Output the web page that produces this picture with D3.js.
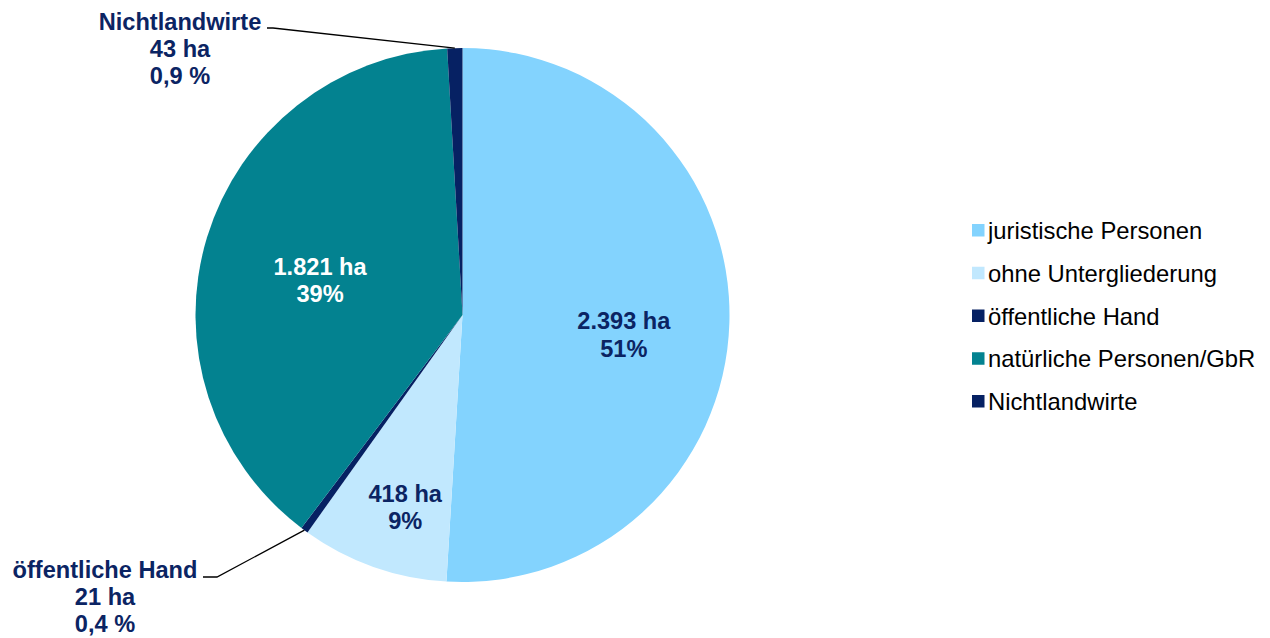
<!DOCTYPE html>
<html>
<head>
<meta charset="utf-8">
<script src="https://cdn.jsdelivr.net/npm/d3@7"></script>
<style>
  html, body { margin: 0; padding: 0; background: #fff; }
  svg { display: block; font-family: "Liberation Sans", Arial, sans-serif; }
</style>
</head>
<body>
<svg id="chart" width="1270" height="638"></svg>
<script>
// Flächen nach Eigentümergruppe (ha)
const categories = ["juristische Personen", "ohne Untergliederung", "öffentliche Hand", "natürliche Personen/GbR", "Nichtlandwirte"];
const values = [2393, 418, 21, 1821, 43];
const colors = ["#83d3fe", "#c1e8fe", "#062163", "#038290", "#062163"];

const W = 1270, H = 638;
const cx = 462.5, cy = 315, R = 267;
const labelColor = "#0b2463";

const svg = d3.select("#chart");
const total = d3.sum(values);
const data = categories.map((c, i) => ({ name: c, value: values[i], color: colors[i] }));

const pie = d3.pie().value(d => d.value).sort(null);
const arcs = pie(data);
const arc = d3.arc().innerRadius(0).outerRadius(R);

const de = d3.formatLocale({ decimal: ",", thousands: ".", grouping: [3], currency: ["", "€"] });
const haFmt = de.format(",d");
const pct0 = v => Math.round(v / total * 100) + "%";
const pct1 = v => (v / total * 100).toFixed(1).replace(".", ",") + " %";

const g = svg.append("g").attr("transform", `translate(${cx},${cy})`);
g.selectAll("path.slice")
  .data(arcs)
  .join("path")
  .attr("class", "slice")
  .attr("d", arc)
  .attr("fill", d => d.data.color);

const fs = 23.6, lh = 27.5, capHalf = 8;

// labels inside the larger slices: radius fraction and angular nudge (degrees) from the slice middle
const inside = {
  "juristische Personen": { r: 0.609, da: 5.4, color: labelColor },
  "ohne Untergliederung": { r: 0.752, da: -2.9, color: labelColor },
  "natürliche Personen/GbR": { r: 0.549, da: -3.3, color: "#ffffff" }
};

arcs.filter(a => inside[a.data.name]).forEach(a => {
  const o = inside[a.data.name];
  const ang = (a.startAngle + a.endAngle) / 2 + o.da * Math.PI / 180;
  const x = o.r * R * Math.sin(ang), y = -o.r * R * Math.cos(ang);
  const t = g.append("text")
    .attr("text-anchor", "middle")
    .attr("font-weight", "bold")
    .attr("font-size", fs)
    .attr("fill", o.color);
  t.append("tspan").attr("x", x).attr("y", y - lh / 2 + capHalf).text(haFmt(a.data.value) + " ha");
  t.append("tspan").attr("x", x).attr("y", y + lh / 2 + capHalf).text(pct0(a.data.value));
});

// small slices: labels outside with leader lines (coordinates relative to pie centre)
const outside = {
  "Nichtlandwirte": { tx: 180 - cx, ty: 29.5 - cy, start: [267 - cx, 28 - cy], elbow: [273 - cx, 28 - cy] },
  "öffentliche Hand": { tx: 105 - cx, ty: 578 - cy, start: [203 - cx, 577 - cy], elbow: [217 - cx, 577 - cy] }
};

arcs.filter(a => outside[a.data.name]).forEach(a => {
  const o = outside[a.data.name];
  const mid = (a.startAngle + a.endAngle) / 2;
  const ex = R * Math.sin(mid), ey = -R * Math.cos(mid);
  g.append("polyline")
    .attr("points", [o.start, o.elbow, [ex, ey]].map(p => p.join(",")).join(" "))
    .attr("fill", "none")
    .attr("stroke", "#000")
    .attr("stroke-width", 1.3);
  const t = g.append("text")
    .attr("text-anchor", "middle")
    .attr("font-weight", "bold")
    .attr("font-size", fs)
    .attr("fill", labelColor);
  const lines = [a.data.name, haFmt(a.data.value) + " ha", pct1(a.data.value)];
  lines.forEach((s, i) => t.append("tspan").attr("x", o.tx).attr("y", o.ty + i * 27).text(s));
});

// legend
const legend = svg.append("g").attr("transform", "translate(972,230.5)");
const rows = legend.selectAll("g.row")
  .data(data)
  .join("g")
  .attr("class", "row")
  .attr("transform", (d, i) => `translate(0,${i * 42.75})`);
rows.append("rect")
  .attr("x", 0).attr("y", -6.5).attr("width", 12.5).attr("height", 12.5)
  .attr("fill", d => d.color);
rows.append("text")
  .attr("x", 16).attr("y", 8.5)
  .attr("font-size", 23.8)
  .attr("fill", "#000")
  .text(d => d.name);
</script>
</body>
</html>
